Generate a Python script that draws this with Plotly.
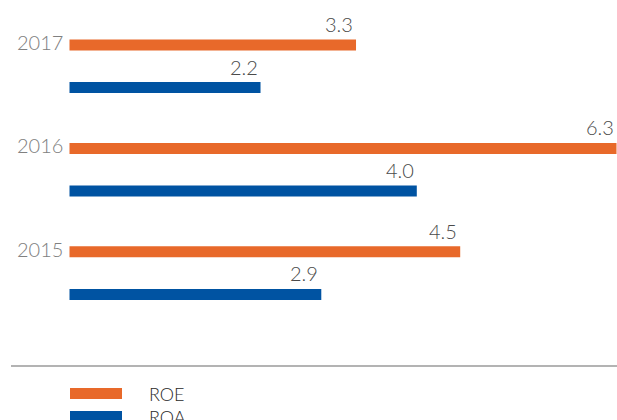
import plotly.graph_objects as go

years = ["2017", "2016", "2015"]
series_names = ["ROE", "ROA"]
roe = [3.3, 6.3, 4.5]
roa = [2.2, 4.0, 2.9]
value_labels_roe = ["3.3", "6.3", "4.5"]
value_labels_roa = ["2.2", "4.0", "2.9"]

colors = {"ROE": "#E8692A", "ROA": "#0053A2"}

W, H = 617, 420
px_per_unit_x = 547 / 6.3
x0 = -69.5 / px_per_unit_x
x1 = x0 + W / px_per_unit_x

cat_px = 103.4
y_top = -45.0 / cat_px
y_bot = y_top + H / cat_px
bar_w = 11.0 / cat_px
roa_off = 42.6 / cat_px

fig = go.Figure()
fig.add_trace(go.Bar(y=years, x=roe, orientation="h", name="ROE",
                     marker=dict(color=colors["ROE"], line=dict(width=0)),
                     width=bar_w, offset=-bar_w / 2, showlegend=False))
fig.add_trace(go.Bar(y=years, x=roa, orientation="h", name="ROA",
                     marker=dict(color=colors["ROA"], line=dict(width=0)),
                     width=bar_w, offset=roa_off - bar_w / 2, showlegend=False))

font = "Lato, 'Open Sans', sans-serif"
ann = []
for i, (v, t) in enumerate(zip(roe, value_labels_roe)):
    ann.append(dict(x=v, y=i, xref="x", yref="y", text=t, showarrow=False,
                    xanchor="right", yanchor="middle", xshift=-1, yshift=21,
                    font=dict(family=font, size=20, color="#4a4a4a", weight=300)))
for i, (v, t) in enumerate(zip(roa, value_labels_roa)):
    ann.append(dict(x=v, y=i + roa_off, xref="x", yref="y", text=t, showarrow=False,
                    xanchor="right", yanchor="middle", xshift=-1, yshift=21,
                    font=dict(family=font, size=20, color="#4a4a4a", weight=300)))
for i, yr in enumerate(years):
    ann.append(dict(x=0, y=i, xref="x", yref="y", text=yr, showarrow=False,
                    xanchor="right", yanchor="middle", xshift=-5, yshift=3,
                    font=dict(family=font, size=20, color="#808080", weight=300)))

# legend (drawn manually)
leg_y = [393.5, 416.5]
shapes = [dict(type="line", xref="paper", yref="paper", x0=11 / W, x1=1,
               y0=1 - 366 / H, y1=1 - 366 / H, line=dict(color="#9a9a9a", width=1.5))]
for name, cy in zip(series_names, leg_y):
    shapes.append(dict(type="rect", xref="paper", yref="paper",
                       x0=70 / W, x1=122 / W, y0=1 - (cy - 5.5) / H, y1=1 - (cy + 5.5) / H,
                       fillcolor=colors[name], line=dict(width=0)))
    ann.append(dict(x=147 / W, y=1 - cy / H, xref="paper", yref="paper", text=name,
                    showarrow=False, xanchor="left", yanchor="middle",
                    font=dict(family=font, size=18, color="#2a2a2a", weight=300)))

fig.update_layout(
    width=W, height=H, autosize=False,
    margin=dict(l=0, r=0, t=0, b=0, pad=0),
    paper_bgcolor="white", plot_bgcolor="white",
    barmode="overlay",
    xaxis=dict(range=[x0, x1], visible=False, fixedrange=True),
    yaxis=dict(type="category", categoryorder="array", categoryarray=years,
               range=[y_bot, y_top], visible=False, fixedrange=True),
    annotations=ann, shapes=shapes,
)

fig.write_html("out.html", config={"displayModeBar": False},
               post_script="document.body.style.margin='0';document.body.style.overflow='hidden';")
